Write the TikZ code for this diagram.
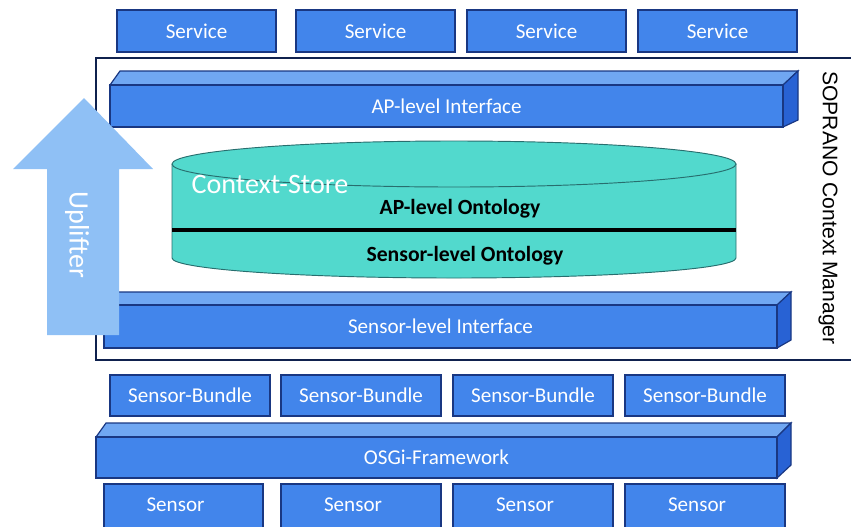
\documentclass[tikz,border=0pt]{standalone}
\usepackage{fontspec}
\setmainfont{Carlito}
\newfontfamily\armfont{Liberation Sans}
\definecolor{boxblue}{RGB}{66,133,235}
\definecolor{topblue}{RGB}{112,167,242}
\definecolor{sideblue}{RGB}{40,98,212}
\definecolor{edgeblue}{RGB}{25,55,130}
\definecolor{cylcyan}{RGB}{82,217,205}
\definecolor{cyledge}{RGB}{40,110,110}
\definecolor{liftblue}{RGB}{143,192,245}
\tikzset{
  box/.style={fill=boxblue, draw=edgeblue, line width=1pt},
  bartop/.style={fill=topblue, draw=edgeblue, line width=1pt},
  barside/.style={fill=sideblue, draw=edgeblue, line width=1pt},
  boxlabel/.style={text=white, font=\fontsize{18}{20}\selectfont},
  ontolabel/.style={text=black, font=\bfseries\fontsize{18.5}{20}\selectfont}
}
\begin{document}
\begin{tikzpicture}[x=0.03cm, y=-0.03cm]
\useasboundingbox (0,0) rectangle (851,526);
% services
\draw[box] (117,10) rectangle (276,52) node[midway, boxlabel] (serv1) {Service};
\draw[box] (296,10) rectangle (455,52) node[midway, boxlabel] (serv2) {Service};
\draw[box] (467,10) rectangle (626,52) node[midway, boxlabel] (serv3) {Service};
\draw[box] (638,10) rectangle (797,52) node[midway, boxlabel] (serv4) {Service};
% context manager frame
\draw[line width=1.2pt, edgeblue!60!black] (851,58) -- (96,58) -- (96,360) -- (851,360);
\node[rotate=-90, font=\armfont\fontsize{18}{20}\selectfont] (cm) at (828,208) {SOPRANO Context Manager};
% AP-level interface
\draw[bartop] (110,85) -- (120,71) -- (798,71) -- (783,85) -- cycle;
\draw[barside] (783,85) -- (798,71) -- (798,120) -- (783,127) -- cycle;
\draw[box] (110,85) rectangle (783,127) node[midway, boxlabel] (apif) {AP-level Interface};
% context store
\fill[cylcyan] (172,164) -- (172,258) arc[start angle=180, end angle=0, x radius=282, y radius=20]
  -- (736,164) arc[start angle=0, end angle=-180, x radius=282, y radius=23] -- cycle;
\draw[cyledge, line width=0.8pt] (172,164) -- (172,258) arc[start angle=180, end angle=0, x radius=282, y radius=20] -- (736,164);
\draw[cyledge, line width=0.8pt] (454,164) ellipse[x radius=282, y radius=23];
\draw[line width=2.6pt] (172,230) -- (736,230);
\node[text=white, font=\fontsize{24}{26}\selectfont] (store) at (270,184) {Context-Store};
\node[ontolabel] (apont) at (460,209) {AP-level Ontology};
\node[ontolabel] (senont) at (465,256) {Sensor-level Ontology};
% Sensor-level interface
\draw[bartop] (104,305) -- (114,292) -- (791,292) -- (777,305) -- cycle;
\draw[barside] (777,305) -- (791,292) -- (791,340) -- (777,348) -- cycle;
\draw[box] (104,305) rectangle (777,348) node[midway, boxlabel] (senif) {Sensor-level Interface};
% uplifter
\fill[liftblue] (47,335) -- (47,169) -- (13,169) -- (84,98) -- (153,169) -- (119,169) -- (119,335) -- cycle;
\node[rotate=-90, text=white, font=\fontsize{24}{26}\selectfont] (lift) at (77,235) {Uplifter};
% bundles
\draw[box] (110,375) rectangle (270,416) node[midway, boxlabel] (bund1) {Sensor-Bundle};
\draw[box] (281,375) rectangle (441,416) node[midway, boxlabel] (bund2) {Sensor-Bundle};
\draw[box] (453,375) rectangle (613,416) node[midway, boxlabel] (bund3) {Sensor-Bundle};
\draw[box] (625,375) rectangle (785,416) node[midway, boxlabel] (bund4) {Sensor-Bundle};
% OSGi
\draw[bartop] (96,437) -- (106,423) -- (791,423) -- (777,437) -- cycle;
\draw[barside] (777,437) -- (791,423) -- (791,465) -- (777,478) -- cycle;
\draw[box] (96,437) rectangle (777,478) node[midway, boxlabel] (osgi) {OSGi-Framework};
% sensors
\draw[box] (104,484) rectangle (263,530) node[pos=0.45, boxlabel] (sens1) {Sensor};
\draw[box] (281,484) rectangle (441,530) node[pos=0.45, boxlabel] (sens2) {Sensor};
\draw[box] (453,484) rectangle (613,530) node[pos=0.45, boxlabel] (sens3) {Sensor};
\draw[box] (625,484) rectangle (785,530) node[pos=0.45, boxlabel] (sens4) {Sensor};
\end{tikzpicture}
\end{document}
